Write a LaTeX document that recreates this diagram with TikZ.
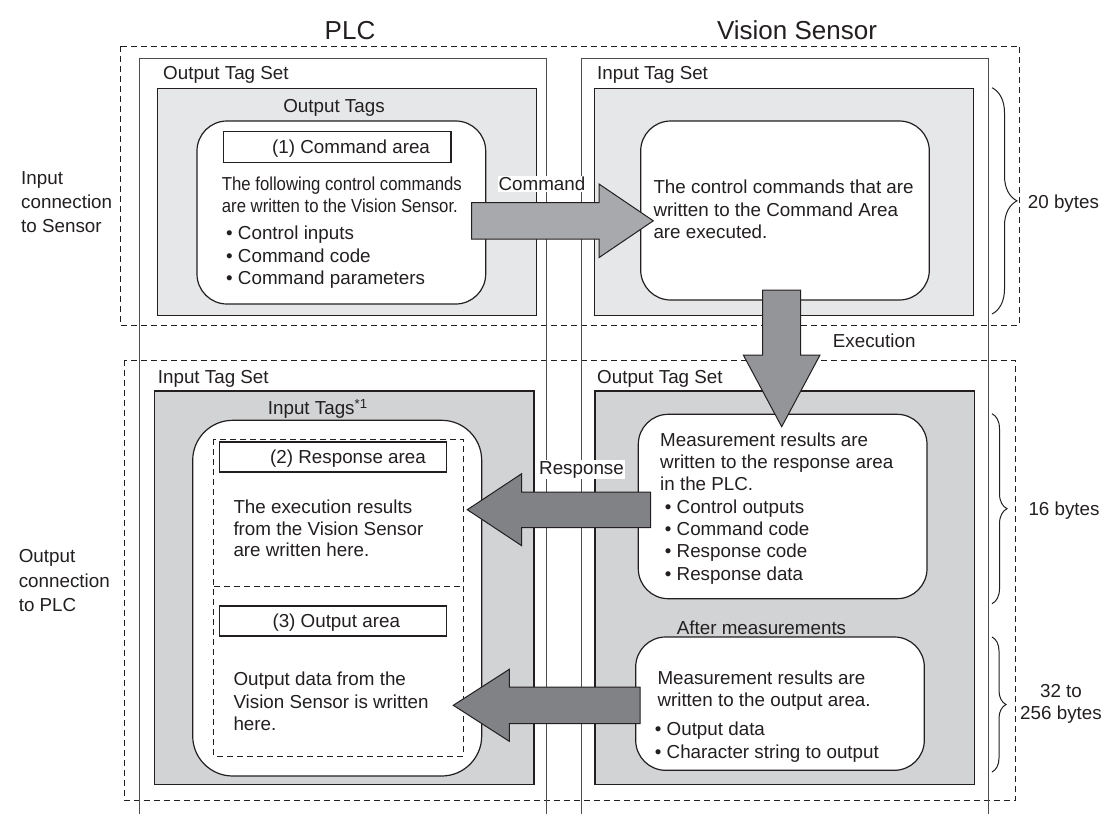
\documentclass[tikz,border=0pt]{standalone}
\usepackage{fontspec}
\setmainfont{Liberation Sans}
\usetikzlibrary{decorations.pathreplacing}
\definecolor{lg}{HTML}{E6E7E8}
\definecolor{mg}{HTML}{D1D3D4}
\definecolor{ac}{HTML}{A7A9AC}
\definecolor{ae}{HTML}{939598}
\definecolor{ar}{HTML}{808285}
\definecolor{ln}{HTML}{231F20}
\newcommand\dfont{\fontsize{18.8}{22.4}\selectfont}
\newcommand\tfont{\fontsize{26}{30}\selectfont}
\tikzset{
  dashbox/.style={draw=ln, line width=0.9pt, dash pattern=on 6pt off 4pt},
  outerln/.style={draw=ln!80, line width=1pt},
  graybox/.style={draw=ln, line width=1.3pt},
  wbox/.style={draw=ln, fill=white, line width=1.2pt},
  lblbox/.style={draw=ln, fill=white, line width=1.1pt},
  blockarrow/.style={draw=ln, line width=1pt},
  txt/.style={inner sep=0pt, font=\dfont, text=ln, align=left},
  ttl/.style={inner sep=0pt, font=\tfont, text=ln},
  tag/.style={inner sep=1pt, font=\dfont, text=ln, fill=white},
  bytebrace/.style={draw=ln, line width=1pt, decorate}
}
\begin{document}
\begin{tikzpicture}[x=1pt,y=-1pt]
\useasboundingbox (0,0) rectangle (1104,814);
\fill[white] (0,0) rectangle (1104,814);

% dashed connection boxes
\draw[dashbox] (120.7,46) rectangle (1019.3,325.3);
\draw[dashbox] (124,360) rectangle (1015.3,800.3);

% outer tag-set boxes (open at the bottom)
\draw[outerln] (139,814) -- (139,58.3) -- (546,58.3) -- (546,814);
\draw[outerln] (581.7,814) -- (581.7,58.3) -- (988.3,58.3) -- (988.3,814);

% gray tag areas
\draw[graybox, fill=lg] (157.3,88.3) rectangle (536.7,315.7);
\draw[graybox, fill=lg] (594.3,88.3) rectangle (973.7,315.7);
\draw[graybox, fill=mg] (154.3,391) rectangle (534,784.3);
\draw[graybox, fill=mg] (595,391) rectangle (974.7,784.3);

% white rounded boxes
\draw[wbox, rounded corners=30pt] (197,121) rectangle (485.7,304);
\draw[wbox, rounded corners=30pt] (640.7,121) rectangle (929.3,300);
\draw[wbox, rounded corners=40pt] (192.7,420.3) rectangle (481.7,776);
\draw[wbox, rounded corners=30pt] (638.3,414.3) rectangle (927,598.7);
\draw[wbox, rounded corners=30pt] (635.7,637) rectangle (924.3,770.3);

% inner dashed areas
\draw[dashbox, line width=0.8pt] (213.7,439.3) rectangle (463.3,756);
\draw[dashbox, line width=0.8pt] (213.7,586) -- (463.3,586);

% area title boxes
\draw[lblbox] (223.3,131.7) rectangle (451,162.3);
\draw[lblbox] (219.3,442) rectangle (446.7,472);
\draw[lblbox] (219.3,606) rectangle (446.7,636);

% block arrows
\draw[blockarrow, fill=ac] (471.7,202.7) -- (599,202.7) -- (599,184) -- (653.3,220.8)
  -- (599,257.6) -- (599,239) -- (471.7,239) -- cycle;
\draw[blockarrow, fill=ae] (762.7,290) -- (762.7,355) -- (743.3,355) -- (781.7,426.7)
  -- (820,355) -- (800.7,355) -- (800.7,290) -- cycle;
\draw[blockarrow, fill=ar] (650.7,492) -- (521.7,492) -- (521.7,473.7) -- (467.3,509.7)
  -- (521.7,545.7) -- (521.7,527.7) -- (650.7,527.7) -- cycle;
\draw[blockarrow, fill=ar] (640,687) -- (509.3,687) -- (509.3,669.3) -- (453.3,705.3)
  -- (509.3,741.3) -- (509.3,723.7) -- (640,723.7) -- cycle;

% braces
\draw[bytebrace, decoration={brace, amplitude=25pt}] (992,87.7) -- (992,314);
\draw[bytebrace, decoration={brace, amplitude=15pt}] (992,413.7) -- (992,603.7);
\draw[bytebrace, decoration={brace, amplitude=14pt}] (992,637) -- (992,772);

% titles
\node[ttl, anchor=base] (tplc) at (350,39.3) {PLC};
\node[ttl, anchor=base] (tvs) at (797,39.3) {Vision Sensor};

% side labels
\node[txt, anchor=north west, font=\fontsize{18.8}{24}\selectfont] (lin) at (21,171.8) {Input\\connection\\to Sensor};
\node[txt, anchor=north west, font=\fontsize{18.8}{24.5}\selectfont] (lout) at (18.6,549.6) {Output\\connection\\to PLC};

% PLC top
\node[txt, anchor=base west] (ots1) at (163,79.7) {Output Tag Set};
\node[txt, anchor=base] (otags) at (334,112.7) {Output Tags};
\node[txt, anchor=base west] (cmdarea) at (272,153.7) {(1) Command area};
\node[txt, anchor=north west] (cmdtxt) at (221.7,176.2) {\scalebox{0.89}[1]{The following control commands}\\\scalebox{0.89}[1]{are written to the Vision Sensor.}};
\node[txt, anchor=north west, font=\fontsize{18.8}{22.5}\selectfont] (cmdlist) at (226,225.9) {• Control inputs\\• Command code\\• Command parameters};

% VS top
\node[txt, anchor=base west] (its1) at (597,79.7) {Input Tag Set};
\node[txt, anchor=north west, font=\fontsize{18.8}{22.5}\selectfont] (exectxt) at (653.3,179.9) {The control commands that are\\written to the Command Area\\are executed.};
\node[tag] (lcmd) at (542,184) {Command};
\node[txt, anchor=base west] (lexe) at (832.7,347.4) {Execution};

% PLC bottom
\node[txt, anchor=base west] (its2) at (157.7,383.4) {Input Tag Set};
\node[txt, anchor=base west] (itags) at (267.7,414.4) {Input Tags\textsuperscript{*1}};
\node[txt, anchor=base west] (resparea) at (270,463.7) {(2) Response area};
\node[txt, anchor=north west, font=\fontsize{18.8}{21.8}\selectfont] (resptxt) at (233.3,499.5) {The execution results\\from the Vision Sensor\\are written here.};
\node[txt, anchor=base west] (outarea) at (272.3,627.7) {(3) Output area};
\node[txt, anchor=north west, font=\fontsize{18.8}{22.5}\selectfont] (outtxt) at (233.3,671.9) {Output data from the\\Vision Sensor is written\\here.};

% VS bottom
\node[txt, anchor=base west] (ots2) at (597,383.4) {Output Tag Set};
\node[txt, anchor=north west, font=\fontsize{18.8}{22.3}\selectfont] (meas1) at (660,432.5) {Measurement results are\\written to the response area\\in the PLC.};
\node[txt, anchor=north west, font=\fontsize{18.8}{22.3}\selectfont] (meas1list) at (664.7,499.5) {• Control outputs\\• Command code\\• Response code\\• Response data};
\node[tag] (lresp) at (581.5,469.7) {Response};
\node[txt, anchor=base west] (after) at (676.7,634.4) {After measurements};
\node[txt, anchor=north west, font=\fontsize{18.8}{21.6}\selectfont] (meas2) at (657.3,670.9) {Measurement results are\\written to the output area.};
\node[txt, anchor=north west, font=\fontsize{18.8}{22.6}\selectfont] (meas2list) at (654.7,721.9) {• Output data\\• Character string to output};

% byte sizes
\node[txt, anchor=base west] (b20) at (1027.7,208.7) {20 bytes};
\node[txt, anchor=base west] (b16) at (1028.3,515.4) {16 bytes};
\node[txt, anchor=north, align=center, font=\fontsize{18.8}{22}\selectfont] (b32) at (1061,684.2) {32 to\\256 bytes};
\end{tikzpicture}
\end{document}
